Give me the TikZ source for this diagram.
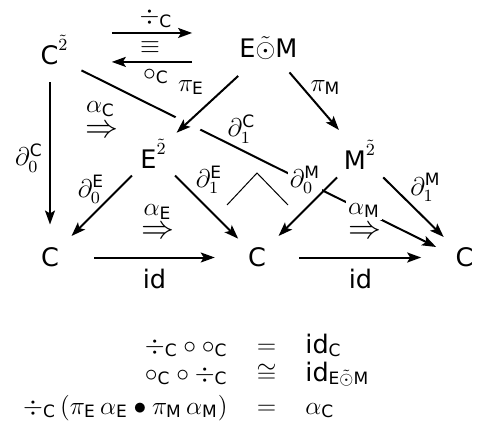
\documentclass[tikz,border=0pt]{standalone}
\usepackage{amsmath}
\usepackage{graphicx}
\usepackage{fontspec}
\setmainfont{DejaVu Sans}
\usetikzlibrary{arrows.meta}

\newcommand{\rmC}{\mathrm{C}}
\newcommand{\rmE}{\mathrm{E}}
\newcommand{\rmM}{\mathrm{M}}
\newcommand{\EoM}{\rmE\tilde{\odot}\rmM}

\begin{document}
\begin{tikzpicture}[
  x=0.47pt, y=-0.47pt,
  every node/.style={font=\fontsize{12}{14.4}\selectfont},
  obj/.style={inner sep=3.75pt},
  lab/.style={inner sep=1pt},
  hid/.style={lab, fill=white},
  eq/.style={inner sep=0pt},
  twocell/.style={inner sep=0pt},
  ar/.style={-{Stealth[length=6.6pt,width=4.7pt,inset=1.4pt]}, line width=0.94pt},
  corner/.style={line width=0.47pt},
]
  \useasboundingbox (0,0) rectangle (478,427);

  % objects
  \node[obj] (Csq) at (54.5,50)    {$\rmC^{\tilde{2}}$};
  \node[obj] (EM)  at (268.5,48)   {$\EoM$};
  \node[obj] (Esq) at (153.5,154)  {$\rmE^{\tilde{2}}$};
  \node[obj] (Msq) at (360,154.5)  {$\rmM^{\tilde{2}}$};
  \node[obj] (C0)  at (50,257.5)   {$\rmC$};
  \node[obj] (C1)  at (257,257.5)  {$\rmC$};
  \node[obj] (C2)  at (464.5,257.5) {$\rmC$};

  % long arrow under the rest
  \draw[ar, shorten <=2.4pt, shorten >=5.8pt]
    ([yshift=2.35pt]Csq.south east) --
    node[pos=0.3, circle, fill=white, minimum size=13pt, inner sep=0pt] (hole) {}
    ([yshift=2.35pt]C2.west);
  \node[hid] (d0M) at (305,180)   {$\partial^{\rmM}_{0}$};
  \node[hid] (aM)  at (364,210.5) {$\alpha_{\rmM}$};

  % arrows
  \draw[ar, shorten <=16.4pt, shorten >=18.3pt]
    ([yshift=8pt]Csq.east) -- ([yshift=8pt]Csq.east -| EM.west);
  \draw[ar, shorten <=18.3pt, shorten >=16.4pt]
    ([yshift=-5.6pt]Csq.east -| EM.west) -- ([yshift=-5.6pt]Csq.east);
  \draw[ar, shorten <=4.2pt, shorten >=7pt] (Csq.south -| C0.north) -- (C0.north);
  \draw[ar, shorten <=5.6pt, shorten >=1pt] (EM) -- (Esq);
  \draw[ar, shorten <=2.8pt, shorten >=1pt] (EM) -- (Msq);
  \draw[ar, shorten >=2.8pt] (Esq) -- (C0);
  \draw[ar, shorten >=1pt] (Esq) -- (C1);
  \draw[ar, shorten >=2.8pt] (Msq) -- (C1);
  \draw[ar, shorten >=2.3pt] (Msq) -- (C2);
  \draw[ar, shorten <=12.7pt, shorten >=11.7pt] (C0) -- (C1);
  \draw[ar, shorten <=11.7pt, shorten >=12.2pt] (C1) -- (C2);
  \draw[corner] (227,205) -- (257,173) -- (288,205);

  % labels
  \node[lab] (divC) at (156,18.5)  {$\div_{\rmC}$};
  \node[lab] (eqv)  at (150,47.5)  {$\equiv$};
  \node[lab] (cirC) at (156,76.5)  {$\circ_{\rmC}$};
  \node[lab] (piE)  at (191,87.5)  {$\pi_{\rmE}$};
  \node[lab] (piM)  at (325.5,87.5) {$\pi_{\rmM}$};
  \node[lab] (d0C)  at (29,158)    {$\partial^{\rmC}_{0}$};
  \node[lab] (d1C)  at (241.5,129) {$\partial^{\rmC}_{1}$};
  \node[lab] (d0E)  at (91,189.5)  {$\partial^{\rmE}_{0}$};
  \node[lab] (d1E)  at (209,180)   {$\partial^{\rmE}_{1}$};
  \node[lab] (d1M)  at (425.5,187.5) {$\partial^{\rmM}_{1}$};
  \node[lab] (id0)  at (154.5,278.5) {$\mathrm{id}$};
  \node[lab] (id1)  at (360.5,278.5) {$\mathrm{id}$};

  % 2-cells
  \node[twocell] (tC) at (101.5,131.5) {\scalebox{1.29}{$\Rightarrow$}};
  \node[twocell] (tE) at (157.5,232.5) {\scalebox{1.29}{$\Rightarrow$}};
  \node[twocell] (tM) at (365,232.5)   {\scalebox{1.29}{$\Rightarrow$}};
  \node[lab] (aC) at (100.5,109) {$\alpha_{\rmC}$};
  \node[lab] (aE) at (157.5,212) {$\alpha_{\rmE}$};

  % equations
  \node[eq, anchor=base east] (l1) at (228,353) {$\div_{\rmC}\circ\circ_{\rmC}$};
  \node[eq, anchor=base]      (m1) at (266.5,353) {$=$};
  \node[eq, anchor=base west] (r1) at (305,353) {$\mathrm{id}_{\rmC}$};
  \node[eq, anchor=base east] (l2) at (228,381) {$\circ_{\rmC}\circ\div_{\rmC}$};
  \node[eq, anchor=base]      (m2) at (266.5,381) {$\cong$};
  \node[eq, anchor=base west] (r2) at (305,381) {$\mathrm{id}_{\EoM}$};
  \node[eq, anchor=base east] (l3) at (228,414)
    {$\div_{\rmC}\,(\pi_{\rmE}\,\alpha_{\rmE}\bullet\pi_{\rmM}\,\alpha_{\rmM})$};
  \node[eq, anchor=base]      (m3) at (266.5,414) {$=$};
  \node[eq, anchor=base west] (r3) at (305,414) {$\alpha_{\rmC}$};
\end{tikzpicture}
\end{document}
